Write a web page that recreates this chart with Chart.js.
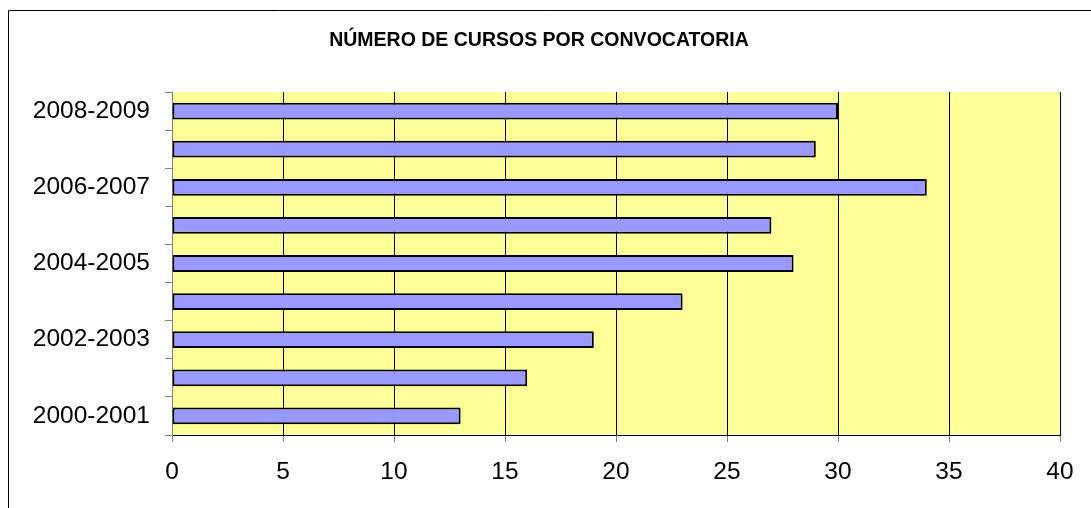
<!DOCTYPE html>
<html>
<head>
<meta charset="utf-8">
<script src="https://cdn.jsdelivr.net/npm/chart.js@4"></script>
<style>
  html, body { margin: 0; padding: 0; background: #fff; }
  #wrap { width: 1091px; height: 508px; position: relative; }
</style>
</head>
<body>
<div id="wrap"><canvas id="cursos_Chart"></canvas></div>
<script>
// Convocatorias y número de cursos
const convocatorias = ['2000-2001', '2001-2002', '2002-2003', '2003-2004', '2004-2005',
                       '2005-2006', '2006-2007', '2007-2008', '2008-2009'];
const numCursos = [13, 16, 19, 23, 28, 27, 34, 29, 30];
const xTicks = [0, 5, 10, 15, 20, 25, 30, 35, 40];
const titulo = 'NÚMERO DE CURSOS POR CONVOCATORIA';

// marco, fondo amarillo del área y título
const fondo = {
    id: 'fondo',
    beforeDraw(chart) {
        const { ctx, chartArea } = chart;
        ctx.save();
        ctx.fillStyle = '#FFFF99';
        ctx.fillRect(chartArea.left, chartArea.top, chartArea.right - chartArea.left, chartArea.bottom - chartArea.top);
        ctx.strokeStyle = '#000';
        ctx.lineWidth = 1;
        ctx.beginPath();
        ctx.moveTo(8.5, 508);
        ctx.lineTo(8.5, 10.5);
        ctx.lineTo(1091, 10.5);
        ctx.stroke();
        ctx.fillStyle = '#000';
        ctx.font = 'bold 19.5px "Liberation Sans", Arial, sans-serif';
        ctx.textAlign = 'center';
        ctx.textBaseline = 'middle';
        ctx.fillText(titulo, 539, 41);
        ctx.restore();
    }
};

const ctxCursos = document.getElementById('cursos_Chart').getContext('2d');
new Chart(ctxCursos, {
    type: 'bar',
    data: {
        labels: convocatorias,
        datasets: [{
            data: numCursos,
            backgroundColor: '#9999FF',
            borderColor: '#000',
            borderWidth: 2,
            borderSkipped: false,
            categoryPercentage: 1,
            barPercentage: 0.44
        }]
    },
    options: {
        indexAxis: 'y',
        responsive: true,
        maintainAspectRatio: false,
        animation: false,
        layout: {
            padding: { top: 92, right: 31, bottom: 0, left: 0 }
        },
        plugins: {
            legend: { display: false },
            title: { display: false },
            tooltip: { enabled: false }
        },
        scales: {
            x: {
                min: 0,
                max: 40,
                afterBuildTicks: (scale) => {
                    scale.ticks = xTicks.map(v => ({ value: v }));
                },
                afterFit: (scale) => { scale.height = 73; },
                grid: {
                    color: '#000',
                    tickColor: '#808080',
                    tickLength: 7,
                    lineWidth: 1
                },
                border: { color: '#000' },
                ticks: {
                    color: '#000',
                    padding: 16,
                    maxRotation: 0,
                    font: { family: '"Liberation Sans", Arial, sans-serif', size: 24.5 }
                }
            },
            y: {
                reverse: true,
                afterFit: (scale) => { scale.width = 172; },
                grid: {
                    drawOnChartArea: false,
                    color: '#808080',
                    tickLength: 7
                },
                border: { color: '#808080' },
                ticks: {
                    color: '#000',
                    padding: 15,
                    autoSkip: false,
                    font: { family: '"Liberation Sans", Arial, sans-serif', size: 24.5 },
                    callback: (value, index) => index % 2 === 0 ? convocatorias[index] : ''
                }
            }
        }
    },
    plugins: [fondo]
});
</script>
</body>
</html>
